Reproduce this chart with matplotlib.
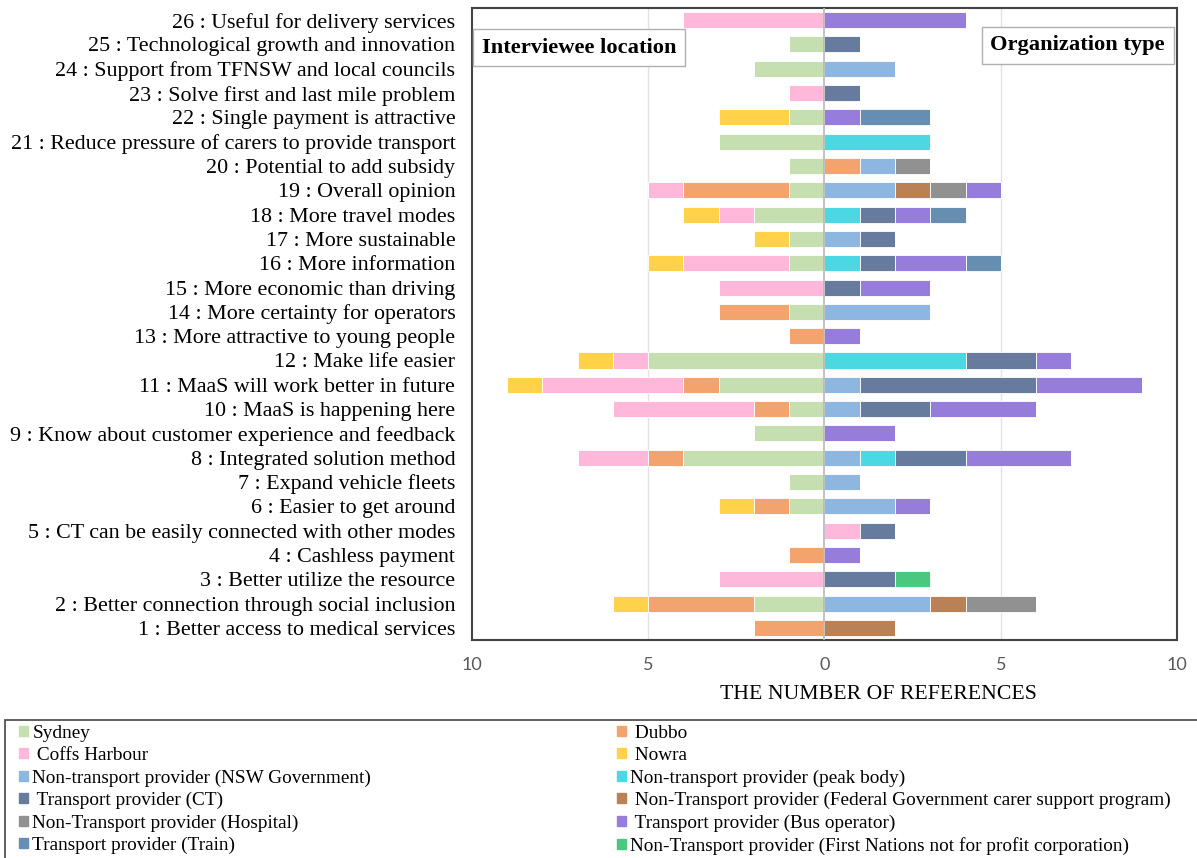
import matplotlib
matplotlib.use('Agg')
import matplotlib.pyplot as plt
from matplotlib.patches import Patch, Rectangle
from matplotlib.ticker import FuncFormatter

plt.rcParams['font.family'] = ['Liberation Serif', 'DejaVu Serif']

topics = [
    'Better access to medical services',
    'Better connection through social inclusion',
    'Better utilize the resource',
    'Cashless payment',
    'CT can be easily connected with other modes',
    'Easier to get around',
    'Expand vehicle fleets',
    'Integrated solution method',
    'Know about customer experience and feedback',
    'MaaS is happening here',
    'MaaS will work better in future',
    'Make life easier',
    'More attractive to young people',
    'More certainty for operators',
    'More economic than driving',
    'More information',
    'More sustainable',
    'More travel modes',
    'Overall opinion',
    'Potential to add subsidy',
    'Reduce pressure of carers to provide transport',
    'Single payment is attractive',
    'Solve first and last mile problem',
    'Support from TFNSW and local councils',
    'Technological growth and innovation',
    'Useful for delivery services',
]

# interviewee location (drawn to the left), rows 1..26
sydney = [0, 2, 0, 0, 0, 1, 1, 4, 2, 1, 3, 5, 0, 1, 0, 1, 1, 2, 1, 1, 3, 1, 0, 2, 1, 0]
dubbo = [2, 3, 0, 1, 0, 1, 0, 1, 0, 1, 1, 0, 1, 2, 0, 0, 0, 0, 3, 0, 0, 0, 0, 0, 0, 0]
coffs = [0, 0, 3, 0, 0, 0, 0, 2, 0, 4, 4, 1, 0, 0, 3, 3, 0, 1, 1, 0, 0, 0, 1, 0, 0, 4]
nowra = [0, 1, 0, 0, 0, 1, 0, 0, 0, 0, 1, 1, 0, 0, 0, 1, 1, 1, 0, 0, 0, 2, 0, 0, 0, 0]

# organization type (drawn to the right), rows 1..26
dubbo_r = [0, 0, 0, 0, 0, 0, 0, 0, 0, 0, 0, 0, 0, 0, 0, 0, 0, 0, 0, 1, 0, 0, 0, 0, 0, 0]
coffs_r = [0, 0, 0, 0, 1, 0, 0, 0, 0, 0, 0, 0, 0, 0, 0, 0, 0, 0, 0, 0, 0, 0, 0, 0, 0, 0]
nsw_gov = [0, 3, 0, 0, 0, 2, 1, 1, 0, 1, 1, 0, 0, 3, 0, 0, 1, 0, 2, 1, 0, 0, 0, 2, 0, 0]
peak_body = [0, 0, 0, 0, 0, 0, 0, 1, 0, 0, 0, 4, 0, 0, 0, 1, 0, 1, 0, 0, 3, 0, 0, 0, 0, 0]
ct = [0, 0, 2, 0, 1, 0, 0, 2, 0, 2, 5, 2, 0, 0, 1, 1, 1, 1, 0, 0, 0, 0, 1, 0, 1, 0]
federal = [2, 1, 0, 0, 0, 0, 0, 0, 0, 0, 0, 0, 0, 0, 0, 0, 0, 0, 1, 0, 0, 0, 0, 0, 0, 0]
hospital = [0, 2, 0, 0, 0, 0, 0, 0, 0, 0, 0, 0, 0, 0, 0, 0, 0, 0, 1, 1, 0, 0, 0, 0, 0, 0]
bus = [0, 0, 0, 1, 0, 1, 0, 3, 2, 3, 3, 1, 1, 0, 2, 2, 0, 1, 1, 0, 0, 1, 0, 0, 0, 4]
train = [0, 0, 0, 0, 0, 0, 0, 0, 0, 0, 0, 0, 0, 0, 0, 1, 0, 1, 0, 0, 0, 2, 0, 0, 0, 0]
first_nations = [0, 0, 1, 0, 0, 0, 0, 0, 0, 0, 0, 0, 0, 0, 0, 0, 0, 0, 0, 0, 0, 0, 0, 0, 0, 0]

c = {
    'sydney': '#c5dfb1', 'dubbo': '#f2a36e', 'coffs': '#ffb8da', 'nowra': '#ffd24a',
    'nsw': '#8db7e1', 'peak': '#4bd8e2', 'ct': '#677b9f', 'federal': '#bb8156',
    'hospital': '#919191', 'bus': '#967cdb', 'train': '#668eb2', 'fn': '#4bc77f',
}

rows = list(range(1, len(topics) + 1))
h = 0.66

fig = plt.figure(figsize=(11.97, 8.58), dpi=100)
ax = fig.add_axes([0.3943, 0.254, 0.589, 0.7367])

left = [(sydney, c['sydney']), (dubbo, c['dubbo']), (coffs, c['coffs']), (nowra, c['nowra'])]
base = [0] * len(rows)
for vals, col in left:
    ax.barh(rows, [-v for v in vals], left=[-b for b in base], height=h, color=col,
            edgecolor='white', linewidth=0.6, zorder=2)
    base = [b + v for b, v in zip(base, vals)]

right = [(dubbo_r, c['dubbo']), (coffs_r, c['coffs']), (nsw_gov, c['nsw']),
         (peak_body, c['peak']), (ct, c['ct']), (federal, c['federal']),
         (hospital, c['hospital']), (bus, c['bus']), (train, c['train']),
         (first_nations, c['fn'])]
base = [0] * len(rows)
for vals, col in right:
    ax.barh(rows, vals, left=base, height=h, color=col,
            edgecolor='white', linewidth=0.6, zorder=2)
    base = [b + v for b, v in zip(base, vals)]

ax.set_xlim(-10, 10)
ax.set_ylim(0.5, 26.5)
ax.set_xticks([-10, -5, 0, 5, 10])
ax.xaxis.set_major_formatter(FuncFormatter(lambda v, p: f'{abs(int(v))}'))
ax.set_yticks(rows)
ax.set_yticklabels([f'{i} : {t}' for i, t in zip(rows, topics)], fontsize=15.8)
ax.tick_params(axis='y', length=0, pad=12)
ax.tick_params(axis='x', length=0, pad=12, labelsize=13, labelcolor='#595959')
for lab in ax.get_xticklabels():
    lab.set_family(['Lato', 'DejaVu Sans'])
for x in (-5, 5):
    ax.axvline(x, color='#e2e2e2', lw=1, zorder=1)
ax.axvline(0, color='#b8b8b8', lw=1.2, zorder=3)
for s in ax.spines.values():
    s.set_color('#444444')
    s.set_linewidth(1.5)
ax.set_xlabel('THE NUMBER OF REFERENCES', fontsize=15.7)
ax.xaxis.set_label_coords(0.576, -0.071)

ax.text(0.014, 0.937, 'Interviewee location', transform=ax.transAxes, fontsize=16.2,
        fontweight='bold', ha='left', va='center', zorder=5,
        bbox=dict(boxstyle='square,pad=0.38', fc='white', ec='#b0b0b0', lw=1))
ax.text(0.983, 0.941, 'Organization type', transform=ax.transAxes, fontsize=16.2,
        fontweight='bold', ha='right', va='center', zorder=5,
        bbox=dict(boxstyle='square,pad=0.38', fc='white', ec='#b0b0b0', lw=1))

# legend frame running off the bottom/right edge
fig.patches.append(Rectangle((5 / 1197, -0.02), 1.05, (858 - 720) / 858 + 0.02,
                             transform=fig.transFigure, fill=False,
                             ec='#444444', lw=1.2))

col1 = [('Sydney', c['sydney']), (' Coffs Harbour', c['coffs']),
        ('Non-transport provider (NSW Government)', c['nsw']),
        (' Transport provider (CT)', c['ct']),
        ('Non-Transport provider (Hospital)', c['hospital']),
        ('Transport provider (Train)', c['train'])]
col2 = [(' Dubbo', c['dubbo']), (' Nowra', c['nowra']),
        ('Non-transport provider (peak body)', c['peak']),
        (' Non-Transport provider (Federal Government carer support program)', c['federal']),
        (' Transport provider (Bus operator)', c['bus']),
        ('Non-Transport provider (First Nations not for profit corporation)', c['fn'])]
for items, x0 in ((col1, 17 / 1197), (col2, 615 / 1197)):
    fig.legend([Patch(color=col) for _, col in items], [lab for lab, _ in items],
               loc='upper left', bbox_to_anchor=(x0, 1 - 723 / 858),
               frameon=False, fontsize=13.9, handlelength=0.45, handleheight=0.45,
               handletextpad=0.25, labelspacing=0.27, borderpad=0.1,
               borderaxespad=0)

fig.savefig('out.png', dpi=100)
